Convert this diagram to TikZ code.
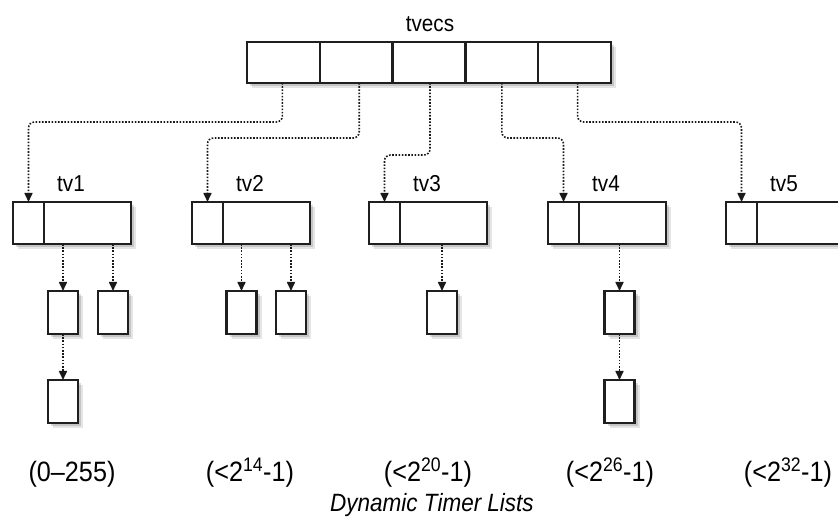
\documentclass[tikz,border=0pt]{standalone}
\usepackage{fontspec}
\setmainfont{Liberation Sans}[FakeStretch=0.9]
\usetikzlibrary{arrows.meta,shadows}
\begin{document}
\begin{tikzpicture}[x=1pt,y=-1pt,
  softshadow/.style={
    drop shadow={shadow xshift=5pt,shadow yshift=-5pt,opacity=.10,fill=black},
    drop shadow={shadow xshift=3pt,shadow yshift=-3pt,opacity=.14,fill=black}},
  cellbox/.style={draw=black!88,line width=2.5pt,fill=white,inner sep=0pt,outer sep=0pt,
    minimum height=41pt,softshadow},
  smallbox/.style={draw=black!88,line width=2.5pt,fill=white,inner sep=0pt,outer sep=0pt,
    minimum width=30pt,minimum height=43pt,softshadow},
  conn/.style={line width=1.6pt,dash pattern=on 1.6pt off 1.6pt,draw=black!90,
    -{Triangle[length=9pt,width=8pt]},rounded corners=6pt},
  lbl/.style={inner sep=0pt,font=\fontsize{23}{27}\selectfont},
  rng/.style={inner sep=0pt,font=\fontsize{28}{32}\selectfont},
  captiontext/.style={inner sep=0pt,font=\fontsize{25}{29}\selectfont\itshape}]
\useasboundingbox (0,0) rectangle (838,518);
\clip (0,0) rectangle (838,518);
% top array
\foreach \i in {1,...,5}{
  \node[cellbox,minimum width=72.8pt] (c\i) at ({247+72.8*(\i-0.5)},62.5) {};
}
\node[lbl,anchor=base] (tvecs) at (430,32) {tvecs};
% tv boxes
\foreach \i/\L in {1/13,2/192,3/369,4/548,5/726}{
  \node[cellbox,minimum width=31pt,minimum height=42pt] (t\i a) at ({\L+15.5},223) {};
  \node[cellbox,minimum width=87pt,minimum height=42pt] (t\i b) at ({\L+74.5},223) {};
  \node[lbl,anchor=base] (tv\i) at ({\L+58},192) {tv\i};
}
% small list boxes
\node[smallbox] (s11) at (63,312.5) {};
\node[smallbox] (s12) at (113,312.5) {};
\node[smallbox] (s13) at (63,401.5) {};
\node[smallbox] (s21) at (241.5,312.5) {};
\node[smallbox] (s22) at (291,312.5) {};
\node[smallbox] (s31) at (442,312.5) {};
\node[smallbox] (s41) at (619.5,312.5) {};
\node[smallbox] (s42) at (619.5,401.5) {};
% connectors from tvecs
\draw[conn] ([xshift=-1pt]c1.south) -- ++(0,39) -| (t1a.north);
\draw[conn] ([xshift=3pt]c2.south) -- ++(0,55) -| (t2a.north);
\draw[conn] ([xshift=1pt]c3.south) -- ++(0,72) -| (t3a.north);
\draw[conn] (c4.south) -- ++(0,55) -| (t4a.north);
\draw[conn] ([xshift=3pt]c5.south) -- ++(0,39) -| (t5a.north);
% connectors to lists
\draw[conn] (s11 |- t1b.south) -- (s11.north);
\draw[conn] (s12 |- t1b.south) -- (s12.north);
\draw[conn] (s11.south) -- (s13.north);
\draw[conn] (s21 |- t2b.south) -- (s21.north);
\draw[conn] (s22 |- t2b.south) -- (s22.north);
\draw[conn] (s31 |- t3b.south) -- (s31.north);
\draw[conn] (s41 |- t4b.south) -- (s41.north);
\draw[conn] (s41.south) -- (s42.north);
% range labels
\node[rng,anchor=base] (r1) at (72,481) {(0--255)};
\node[rng,anchor=base] (r2) at (250,481) {(<2\textsuperscript{14}-1)};
\node[rng,anchor=base] (r3) at (428,481) {(<2\textsuperscript{20}-1)};
\node[rng,anchor=base] (r4) at (610,481) {(<2\textsuperscript{26}-1)};
\node[rng,anchor=base] (r5) at (788,481) {(<2\textsuperscript{32}-1)};
\node[captiontext,anchor=base] (title) at (432,511) {Dynamic Timer Lists};
\end{tikzpicture}
\end{document}
